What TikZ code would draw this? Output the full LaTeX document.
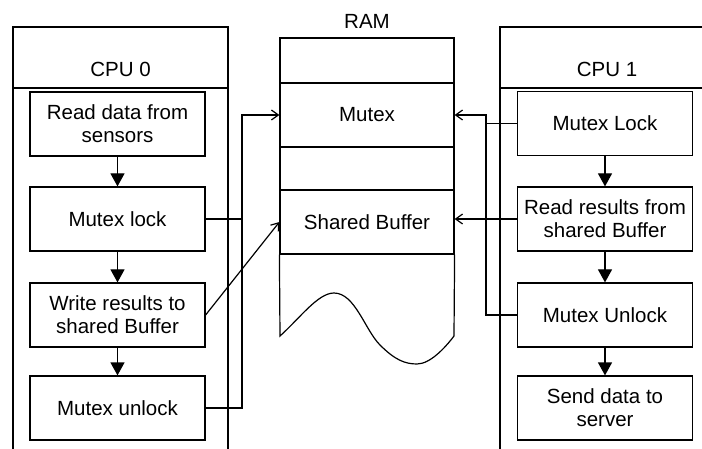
\documentclass[tikz,border=0pt]{standalone}
\usepackage{fontspec}
\setmainfont{Liberation Sans}
\usetikzlibrary{arrows.meta,calc}
\begin{document}
\begin{tikzpicture}[x=1pt,y=-1pt,line width=1.2pt,
  every node/.style={font=\fontsize{20.5}{23}\selectfont},
  stepbox/.style={draw,minimum width=175pt,minimum height=64pt,inner sep=0pt,align=center},
  ramrow/.style={draw,minimum width=174pt,inner sep=0pt},
  flow/.style={-{Triangle[width=14pt,length=13pt]}},
  link/.style={-{Straight Barb[length=7pt,width=10pt]}}]
\useasboundingbox (0,0) rectangle (702,449);

% swimlane of the first processor
\draw (13,449) -- (13,27) -- (228,27) -- (228,449);
\draw (13,88) -- (228,88);
\node[anchor=base] (cpu0) at (120.5,77) {CPU 0};

% swimlane of the second processor
\draw (500,449) -- (500,27) -- (702,27);
\draw (500,88) -- (702,88);
\node[anchor=base] (cpu1) at (607,77) {CPU 1};

% memory column
\node[anchor=base] (ramlabel) at (367,29) {RAM};
\node[ramrow,minimum height=45pt] (ramTop) at (367,60.5) {};
\node[ramrow,minimum height=64pt] (ramMutex) at (367,115) {Mutex};
\node[ramrow,minimum height=43pt] (ramGap) at (367,168.5) {};
\node[ramrow,minimum height=64pt] (ramBuf) at (367,222) {Shared Buffer};
\draw (ramBuf.south west) -- (280,336)
  .. controls (300,318) and (318,293) .. (334,293)
  .. controls (355,293) and (365,330) .. (380,345)
  .. controls (395,360) and (405,364) .. (417,364)
  .. controls (430,364) and (445,348) .. (454,336)
  -- (ramBuf.south east);

% steps on CPU 0
\node[stepbox] (read0) at (117.5,124) {Read data from\\sensors};
\node[stepbox] (lock0) at (117.5,219) {Mutex lock};
\node[stepbox] (write0) at (117.5,315) {Write results to\\shared Buffer};
\node[stepbox] (unlock0) at (117.5,408) {Mutex unlock};

% steps on CPU 1
\node[stepbox] (lock1) at (605,123.5) {Mutex Lock};
\node[stepbox] (read1) at (605,219) {Read results from\\shared Buffer};
\node[stepbox] (unlock1) at (605,315) {Mutex Unlock};
\node[stepbox] (send1) at (605,408) {Send data to\\server};

% control flow
\draw[flow] (read0) -- (lock0);
\draw[flow] (lock0) -- (write0);
\draw[flow] (write0) -- (unlock0);
\draw[flow] (lock1) -- (read1);
\draw[flow] (read1) -- (unlock1);
\draw[flow] (unlock1) -- (send1);

% memory accesses from CPU 0
\coordinate (bus0) at (242,115);
\draw[link] (lock0.east) -| (bus0) -- (ramMutex.west);
\draw (unlock0.east) -| (bus0);
\draw[link] (write0.east) -- (ramBuf.west);

% memory accesses from CPU 1
\coordinate (bus1) at (486,115);
\draw[link] (lock1.west) -| (bus1) -- (ramMutex.east);
\draw (unlock1.west) -| (bus1);
\draw[link] (read1.west) -- (read1.west -| ramBuf.east);
\end{tikzpicture}
\end{document}
